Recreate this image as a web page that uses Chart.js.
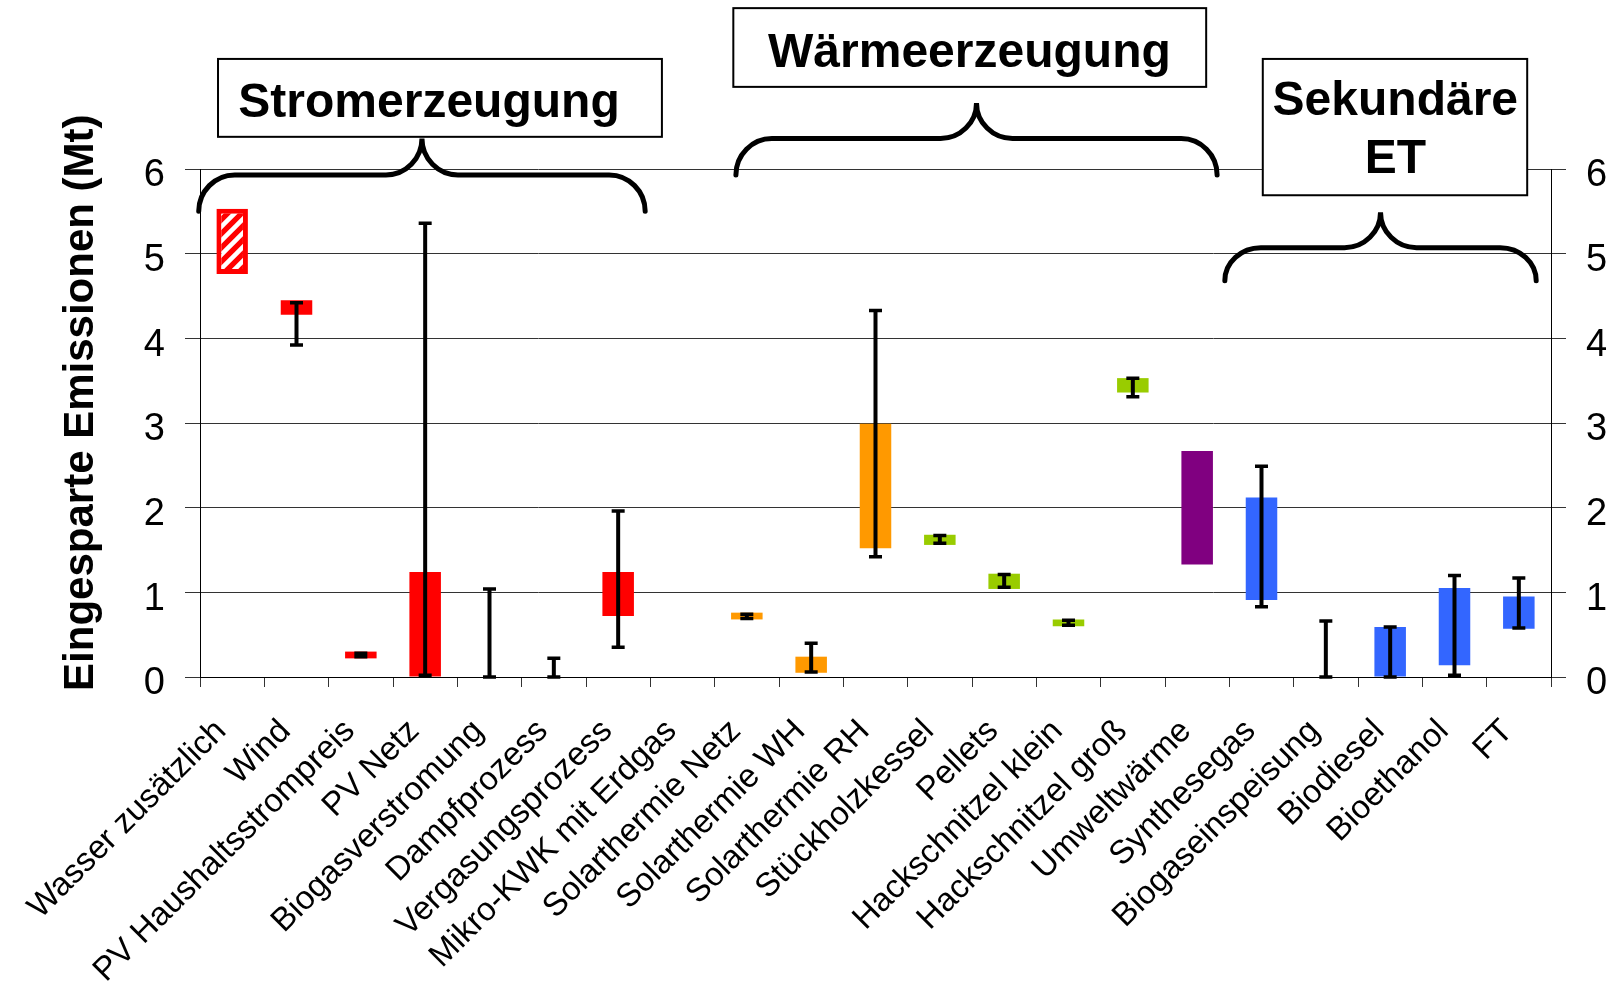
<!DOCTYPE html>
<html lang="de">
<head>
<meta charset="utf-8">
<title>Eingesparte Emissionen</title>
<script src="https://cdn.jsdelivr.net/npm/chart.js@4.4.1/dist/chart.umd.min.js"></script>
<style>
  html, body { margin: 0; padding: 0; background: #fff; }
  #wrap { width: 1614px; height: 983px; position: relative; }
</style>
</head>
<body>
<div id="wrap"><canvas id="chart"></canvas></div>
<script>
// Eingesparte Emissionen (Mt) je Technologie - floating bars (Bandbreite) + min/max whiskers

const categories = [
  'Wasser zusätzlich', 'Wind', 'PV Haushaltsstrompreis', 'PV Netz', 'Biogasverstromung',
  'Dampfprozess', 'Vergasungsprozess', 'Mikro-KWK mit Erdgas', 'Solarthermie Netz',
  'Solarthermie WH', 'Solarthermie RH', 'Stückholzkessel', 'Pellets', 'Hackschnitzel klein',
  'Hackschnitzel groß', 'Umweltwärme', 'Synthesegas', 'Biogaseinspeisung', 'Biodiesel',
  'Bioethanol', 'FT'
];

// bar range (low / high), null = no bar
const barLow  = [4.76, 4.28, 0.22, 0,    null, null, 0.72, null, 0.68, 0.05, 1.52, 1.56, 1.04, 0.60, 3.36, 1.33, 0.91, null, 0,    0.14, 0.57];
const barHigh = [5.53, 4.45, 0.30, 1.24, null, null, 1.24, null, 0.76, 0.24, 2.99, 1.68, 1.22, 0.68, 3.53, 2.67, 2.12, null, 0.59, 1.05, 0.95];

// whiskers (min / max)
const errLow  = [null, 3.92, 0.24, 0.02, 0,    0,    0.35, null, 0.69, 0.06, 1.42, 1.58, 1.06, 0.61, 3.31, null, 0.83, 0,    0,    0.02, 0.58];
const errHigh = [null, 4.42, 0.28, 5.36, 1.04, 0.22, 1.96, null, 0.74, 0.40, 4.33, 1.67, 1.21, 0.67, 3.53, null, 2.49, 0.66, 0.59, 1.20, 1.17];

const yTicks = [0, 1, 2, 3, 4, 5, 6];

const RED = '#ff0000', ORANGE = '#ff9900', GREEN = '#99cc00', PURPLE = '#800080', BLUE = '#3366ff';
const FONT = "'Liberation Sans', Arial, Helvetica, sans-serif";

function hatch() {
  const s = 14;
  const c = document.createElement('canvas');
  c.width = c.height = s;
  const g = c.getContext('2d');
  g.fillStyle = RED;
  g.fillRect(0, 0, s, s);
  g.strokeStyle = '#fff';
  g.lineWidth = 4.5;
  g.beginPath();
  g.moveTo(-2, s + 2); g.lineTo(s + 2, -2);
  g.moveTo(-2, 2); g.lineTo(2, -2);
  g.moveTo(s - 2, s + 2); g.lineTo(s + 2, s - 2);
  g.stroke();
  return g.createPattern(c, 'repeat');
}

const barColors = [hatch(), RED, RED, RED, RED, RED, RED, RED,
  ORANGE, ORANGE, ORANGE, GREEN, GREEN, GREEN, GREEN, PURPLE,
  BLUE, BLUE, BLUE, BLUE, BLUE];

// group boxes + curly braces, placed in category-index / value units
const groups = [
  { text: ['Stromerzeugung'], base: [6.61], textAt: 3.06,
    box: { from: -0.22, to: 6.68, top: 7.30, bottom: 6.38 },
    brace: { from: -0.52, to: 6.42, end: 5.50, mid: 5.93, tip: 6.36 } },
  { text: ['Wärmeerzeugung'], base: [7.21], textAt: 11.46,
    box: { from: 7.79, to: 15.14, top: 7.90, bottom: 6.97 },
    brace: { from: 7.83, to: 15.31, end: 5.93, mid: 6.36, tip: 6.78 } },
  { text: ['Sekundäre', 'ET'], base: [6.64, 5.95], textAt: 18.08,
    box: { from: 16.02, to: 20.13, top: 7.30, bottom: 5.69 },
    brace: { from: 15.43, to: 20.27, end: 4.68, mid: 5.07, tip: 5.49 } }
];

function drawBrace(ctx, x0, x1, yEnd, yMid, yTip, r) {
  const k = 0.55, xm = (x0 + x1) / 2;
  ctx.beginPath();
  ctx.moveTo(x0, yEnd);
  ctx.bezierCurveTo(x0, yEnd - k * (yEnd - yMid), x0 + r * (1 - k), yMid, x0 + r, yMid);
  ctx.lineTo(xm - r, yMid);
  ctx.bezierCurveTo(xm - r * (1 - k), yMid, xm, yMid - (1 - k) * (yMid - yTip), xm, yTip);
  ctx.bezierCurveTo(xm, yMid - (1 - k) * (yMid - yTip), xm + r * (1 - k), yMid, xm + r, yMid);
  ctx.lineTo(x1 - r, yMid);
  ctx.bezierCurveTo(x1 - r * (1 - k), yMid, x1, yEnd - k * (yEnd - yMid), x1, yEnd);
  ctx.stroke();
}

const whiskers = {
  id: 'whiskers',
  afterDatasetsDraw(chart) {
    const { ctx, scales: { x, y } } = chart;
    ctx.save();
    ctx.strokeStyle = '#000';
    ctx.lineCap = 'butt';
    errLow.forEach((lo, i) => {
      const hi = errHigh[i];
      if (lo == null || hi == null) return;
      const px = x.getPixelForValue(i);
      const y1 = y.getPixelForValue(lo), y2 = y.getPixelForValue(hi);
      ctx.lineWidth = 4;
      ctx.beginPath();
      ctx.moveTo(px, y1); ctx.lineTo(px, y2);
      ctx.stroke();
      ctx.lineWidth = 3.5;
      ctx.beginPath();
      ctx.moveTo(px - 6.5, y1); ctx.lineTo(px + 6.5, y1);
      ctx.moveTo(px - 6.5, y2); ctx.lineTo(px + 6.5, y2);
      ctx.stroke();
    });
    ctx.restore();
  }
};

const groupLabels = {
  id: 'groupLabels',
  afterDraw(chart) {
    const { ctx, scales: { x, y } } = chart;
    ctx.save();
    // y axis title, drawn by hand so it sits where the original has it
    ctx.save();
    ctx.translate(93, y.getPixelForValue(3.24));
    ctx.rotate(-Math.PI / 2);
    ctx.font = 'bold 42px ' + FONT;
    ctx.fillStyle = '#000';
    ctx.textAlign = 'center';
    ctx.textBaseline = 'alphabetic';
    ctx.fillText('Eingesparte Emissionen (Mt)', 0, 0);
    ctx.restore();

    groups.forEach(g => {
      const b = g.box;
      const bx0 = x.getPixelForValue(b.from), bx1 = x.getPixelForValue(b.to);
      const by0 = y.getPixelForValue(b.top), by1 = y.getPixelForValue(b.bottom);
      ctx.fillStyle = '#fff';
      ctx.fillRect(bx0, by0, bx1 - bx0, by1 - by0);
      ctx.strokeStyle = '#000';
      ctx.lineWidth = 2;
      ctx.strokeRect(bx0, by0, bx1 - bx0, by1 - by0);
      ctx.fillStyle = '#000';
      ctx.font = 'bold 48px ' + FONT;
      ctx.textAlign = 'center';
      ctx.textBaseline = 'alphabetic';
      const tx = x.getPixelForValue(g.textAt);
      g.text.forEach((t, k) => ctx.fillText(t, tx, y.getPixelForValue(g.base[k])));

      const br = g.brace;
      ctx.lineWidth = 5;
      ctx.lineCap = 'round';
      drawBrace(ctx, x.getPixelForValue(br.from), x.getPixelForValue(br.to),
        y.getPixelForValue(br.end), y.getPixelForValue(br.mid), y.getPixelForValue(br.tip), 36);
    });
    ctx.restore();
  }
};

Chart.defaults.font.family = FONT;
Chart.defaults.color = '#000';

const ctx = document.getElementById('chart').getContext('2d');

new Chart(ctx, {
  type: 'bar',
  data: {
    labels: categories,
    datasets: [{
      data: barLow.map((lo, i) => (lo == null ? null : [lo, barHigh[i]])),
      backgroundColor: barColors,
      borderColor: RED,
      borderWidth: categories.map((_, i) => (i === 0 ? 5 : 0)),
      borderSkipped: false,
      barPercentage: 0.49,
      categoryPercentage: 1
    }]
  },
  plugins: [whiskers, groupLabels],
  options: {
    responsive: true,
    maintainAspectRatio: false,
    animation: false,
    layout: { padding: { top: 169, left: 0, right: 0, bottom: 0 } },
    plugins: {
      legend: { display: false },
      tooltip: { enabled: false }
    },
    scales: {
      x: {
        offset: true,
        grid: { offset: true, drawOnChartArea: false, drawTicks: true, tickLength: 10, color: '#333' },
        border: { color: '#000', width: 1 },
        ticks: {
          autoSkip: false, minRotation: 45, maxRotation: 45, padding: 25, labelOffset: -11,
          font: { size: 33 }, color: '#000'
        },
        afterFit(s) { s.height = 306; s.paddingLeft = 0; s.paddingRight = 0; }
      },
      y: {
        position: 'left',
        min: 0, max: 6,
        afterBuildTicks(s) { s.ticks = yTicks.map(v => ({ value: v })); },
        grid: { color: '#333', tickLength: 15 },
        border: { color: '#000', width: 1 },
        ticks: { font: { size: 38 }, color: '#000', padding: 20, labelOffset: 7 },
        afterFit(s) { s.width = 200; }
      },
      y2: {
        position: 'right',
        min: 0, max: 6,
        afterBuildTicks(s) { s.ticks = yTicks.map(v => ({ value: v })); },
        grid: { drawOnChartArea: false, color: '#333', tickLength: 15 },
        border: { color: '#000', width: 1 },
        ticks: { font: { size: 38 }, color: '#000', padding: 20, labelOffset: 7 },
        afterFit(s) { s.width = 63; }
      }
    }
  }
});
</script>
</body>
</html>
